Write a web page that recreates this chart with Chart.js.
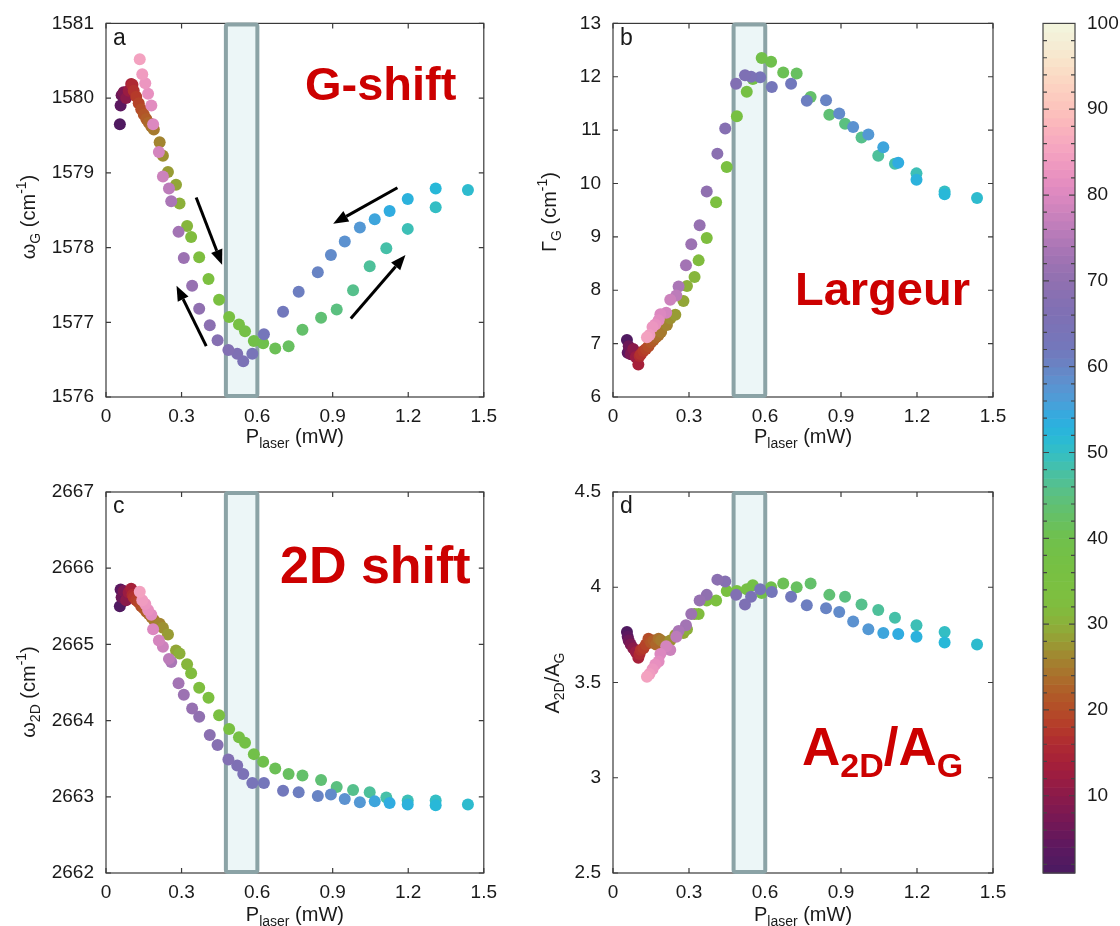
<!DOCTYPE html>
<html>
<head>
<meta charset="utf-8">
<script src="https://cdn.jsdelivr.net/npm/chart.js@4.4.0/dist/chart.umd.min.js"></script>
<style>
  body { margin: 0; background: #fff; }
  #wrap { position: relative; width: 1120px; height: 926px; overflow: hidden; }
  canvas { position: absolute; }
</style>
</head>
<body>
<div id="wrap">
  <canvas id="pa" width="505" height="460" style="left:0;top:0"></canvas>
  <canvas id="pb" width="505" height="460" style="left:510px;top:0"></canvas>
  <canvas id="pc" width="505" height="466" style="left:0;top:460px"></canvas>
  <canvas id="pd" width="505" height="466" style="left:510px;top:460px"></canvas>
  <canvas id="cb" width="90" height="926" style="left:1030px;top:0"></canvas>
</div>
<script>
// laser power of each measurement (mW), in the order they were taken
const power = [0.055,0.058,0.062,0.07,0.08,0.09,0.10,0.105,0.11,0.12,0.13,0.14,0.15,0.16,0.17,0.18,0.19,
  0.213,0.226,0.246,0.278,0.292,0.322,0.338,0.370,0.407,0.449,0.489,0.528,0.552,0.587,0.624,0.672,0.725,0.780,0.854,0.916,0.981,1.047,1.113,1.198,1.309,1.437,
  1.309,1.198,1.126,1.067,1.008,0.948,0.893,0.841,0.765,0.703,0.627,0.581,0.545,0.521,0.486,0.443,0.412,0.370,0.342,0.309,0.288,0.259,0.250,0.226,0.210,0.187,0.180,0.167,0.156,0.144,0.134];
// colour-bar value of each measurement
const stamp = [2,4,6,8,10,12,14,16,17,18,19,20,21,22,23,24,25,
  26,27,28,29,30,31,32,33,34,35,36,37,38,39,40,41,42,43,44,45,46,47,48,49,50,51,
  52,53,54,55,57,58,59,60,61,62,63,64,65,66,67,68,69,70,71,72,73,74,76,78,79,80,81,82,83,84,85];

const omegaG = [1579.65,1579.90,1580.04,1580.08,1580.00,1580.10,1580.19,1580.18,1580.10,1580.02,1579.93,1579.85,1579.78,1579.72,1579.67,1579.62,1579.58,
  1579.41,1579.23,1579.01,1578.84,1578.59,1578.29,1578.14,1577.87,1577.58,1577.30,1577.07,1576.97,1576.88,1576.75,1576.72,1576.65,1576.68,1576.90,1577.06,1577.17,1577.43,1577.75,1577.99,1578.25,1578.54,1578.77,
  1578.79,1578.65,1578.49,1578.38,1578.27,1578.08,1577.90,1577.67,1577.41,1577.14,1576.84,1576.58,1576.48,1576.58,1576.63,1576.76,1576.96,1577.18,1577.49,1577.86,1578.21,1578.62,1578.79,1578.95,1579.28,1579.65,1579.90,1580.06,1580.20,1580.32,1580.52];
const gammaG = [7.07,6.83,6.95,6.80,6.90,6.75,6.61,6.77,6.80,6.86,6.90,6.95,7.02,7.07,7.12,7.16,7.22,
  7.35,7.47,7.54,7.80,8.08,8.25,8.56,8.98,9.65,10.31,11.26,11.72,11.96,12.35,12.28,12.08,12.06,11.62,11.29,11.12,10.86,10.52,10.37,10.19,9.85,9.73,
  9.80,10.07,10.39,10.68,10.92,11.06,11.31,11.56,11.55,11.87,11.81,11.99,12.00,12.03,11.87,11.03,10.56,9.85,9.22,8.86,8.47,8.07,7.90,7.82,7.58,7.55,7.44,7.36,7.31,7.16,7.12];
const omega2D = [2665.50,2665.72,2665.62,2665.70,2665.58,2665.68,2665.73,2665.65,2665.62,2665.58,2665.55,2665.50,2665.47,2665.43,2665.40,2665.36,2665.32,
  2665.27,2665.22,2665.13,2664.92,2664.88,2664.74,2664.62,2664.43,2664.30,2664.07,2663.89,2663.78,2663.71,2663.56,2663.46,2663.37,2663.30,2663.28,2663.22,2663.13,2663.09,2663.06,2662.99,2662.95,2662.95,2662.90,
  2662.89,2662.90,2662.92,2662.94,2662.93,2662.97,2663.03,2663.01,2663.06,2663.08,2663.18,2663.18,2663.30,2663.41,2663.49,2663.68,2663.81,2664.05,2664.16,2664.34,2664.49,2664.77,2664.81,2664.97,2665.05,2665.20,2665.39,2665.45,2665.53,2665.58,2665.69];
const ratio2D = [3.765,3.74,3.72,3.70,3.68,3.66,3.63,3.65,3.67,3.68,3.70,3.73,3.71,3.72,3.70,3.73,3.72,
  3.70,3.72,3.75,3.76,3.78,3.86,3.86,3.93,3.93,3.98,3.98,3.99,4.01,3.97,4.00,4.02,4.00,4.02,3.96,3.95,3.91,3.88,3.84,3.80,3.765,3.70,
  3.71,3.74,3.755,3.76,3.78,3.82,3.87,3.89,3.905,3.95,3.975,3.99,3.95,3.91,3.96,4.03,4.04,3.96,3.93,3.86,3.80,3.77,3.74,3.67,3.69,3.65,3.61,3.595,3.57,3.545,3.53];

const xTicks = [0, 0.3, 0.6, 0.9, 1.2, 1.5];
const yTicksA = [1576, 1577, 1578, 1579, 1580, 1581];
const yTicksB = [6, 7, 8, 9, 10, 11, 12, 13];
const yTicksC = [2662, 2663, 2664, 2665, 2666, 2667];
const yTicksD = [2.5, 3, 3.5, 4, 4.5];
const cbTicks = [10, 20, 30, 40, 50, 60, 70, 80, 90, 100];

const cmapPos = [1,2,4,6,8,10,12,14,16,18,20,22,24,26,28,30,32,34,36,38,40,42,44,46,48,50,52,54,56,58,60,62,64,66,68,70,72,74,76,78,80,82,84,86,88,90,92,94,96,98,100];
const cmapHex = ['#4a1a62','#501a60','#5c1860','#6c1858','#7c1852','#8a1a4a','#9a1c42','#a62039','#ae2a32','#b53a2a',
  '#b44c28','#b05c28','#aa702c','#a28430','#989c34','#8cb03a','#80bc3e','#7cc040','#78c042','#74c046',
  '#70c04c','#68c060','#60c074','#56c08c','#46c0a8','#34bec4','#28b8d8','#30ace0','#4c9ed8','#5c92d0',
  '#6884c4','#7278bc','#7874b8','#7e70b4','#8670b2','#9070b0','#9c72b2','#aa76b6','#bc7cba','#cc82bc',
  '#dc88c0','#e890c0','#f09cc0','#f6a8c0','#fab4bc','#fcc2bc','#fccec0','#fadac4','#f8e6cc','#f4eed6','#f2f6de'];

const FONT = '"Liberation Sans", Arial, Helvetica, sans-serif';
const RED = '#cc0000';
const INK = '#1a1a1a';
Chart.defaults.font.family = FONT;
Chart.defaults.color = INK;

function hexRgb(h) {
  return [parseInt(h.slice(1, 3), 16), parseInt(h.slice(3, 5), 16), parseInt(h.slice(5, 7), 16)];
}
function cmap(v) {
  for (let i = 1; i < cmapPos.length; i++) {
    if (v <= cmapPos[i]) {
      const f = (v - cmapPos[i - 1]) / (cmapPos[i] - cmapPos[i - 1]);
      const a = hexRgb(cmapHex[i - 1]), b = hexRgb(cmapHex[i]);
      const c = a.map((q, k) => Math.round(q + (b[k] - q) * f));
      return 'rgb(' + c.join(',') + ')';
    }
  }
  return cmapHex[cmapHex.length - 1];
}

// text made of pieces (subscripts, superscripts), drawn on one baseline
function drawRich(ctx, segs, x, y, align, color, bold) {
  ctx.save();
  ctx.fillStyle = color;
  ctx.textBaseline = 'alphabetic';
  ctx.textAlign = 'left';
  let w = 0;
  segs.forEach(s => {
    ctx.font = (bold ? 'bold ' : '') + s.size + 'px ' + FONT;
    s.w = ctx.measureText(s.t).width;
    w += s.w;
  });
  let cx = align === 'center' ? x - w / 2 : x;
  segs.forEach(s => {
    ctx.font = (bold ? 'bold ' : '') + s.size + 'px ' + FONT;
    ctx.fillText(s.t, cx, y + (s.dy || 0));
    cx += s.w;
  });
  ctx.restore();
}

const panelPlugin = {
  id: 'panel',
  beforeDatasetsDraw(chart, args, o) {
    const { ctx, chartArea: a, scales: { x, y } } = chart;
    ctx.save();
    ctx.strokeStyle = '#3a3a3a';
    ctx.lineWidth = 1.2;
    ctx.strokeRect(a.left, a.top, a.right - a.left, a.bottom - a.top);
    ctx.beginPath();
    x.ticks.forEach(t => {
      const p = x.getPixelForValue(t.value);
      ctx.moveTo(p, a.bottom); ctx.lineTo(p, a.bottom - 5);
      ctx.moveTo(p, a.top); ctx.lineTo(p, a.top + 5);
    });
    y.ticks.forEach(t => {
      const p = y.getPixelForValue(t.value);
      ctx.moveTo(a.left, p); ctx.lineTo(a.left + 5, p);
      ctx.moveTo(a.right, p); ctx.lineTo(a.right - 5, p);
    });
    ctx.stroke();
    // highlighted power window
    const b0 = x.getPixelForValue(o.band[0]), b1 = x.getPixelForValue(o.band[1]);
    ctx.fillStyle = '#ecf6f7';
    ctx.strokeStyle = '#8ba3a6';
    ctx.lineWidth = 4;
    ctx.beginPath();
    ctx.roundRect(b0, a.top + 1, b1 - b0, a.bottom - a.top - 2, 2);
    ctx.fill();
    ctx.stroke();
    ctx.restore();
  },
  afterDatasetsDraw(chart, args, o) {
    const { ctx, chartArea: a, scales: { x, y } } = chart;
    ctx.save();
    (o.arrows || []).forEach(([x0, y0, x1, y1]) => {
      const p0 = [x.getPixelForValue(x0), y.getPixelForValue(y0)];
      const p1 = [x.getPixelForValue(x1), y.getPixelForValue(y1)];
      const ang = Math.atan2(p1[1] - p0[1], p1[0] - p0[0]);
      const hl = 15, hw = 6;
      const bx = p1[0] - hl * Math.cos(ang), by = p1[1] - hl * Math.sin(ang);
      ctx.strokeStyle = '#000';
      ctx.fillStyle = '#000';
      ctx.lineWidth = 3;
      ctx.beginPath();
      ctx.moveTo(p0[0], p0[1]);
      ctx.lineTo(bx, by);
      ctx.stroke();
      ctx.beginPath();
      ctx.moveTo(p1[0], p1[1]);
      ctx.lineTo(bx + hw * Math.sin(ang), by - hw * Math.cos(ang));
      ctx.lineTo(bx - hw * Math.sin(ang), by + hw * Math.cos(ang));
      ctx.closePath();
      ctx.fill();
    });
    ctx.restore();
    drawRich(ctx, o.label, o.labelAt[0], o.labelAt[1], 'left', RED, true);
    drawRich(ctx, [{ t: o.letter, size: 23 }], a.left + 7, a.top + o.letterDy, 'left', INK);
    drawRich(ctx, [{ t: 'P', size: 20 }, { t: 'laser', size: 14, dy: 5 }, { t: ' (mW)', size: 20 }],
      (a.left + a.right) / 2, o.xTitleY, 'center', INK);
    ctx.save();
    ctx.translate(o.yTitleAt[0], o.yTitleAt[1]);
    ctx.rotate(-Math.PI / 2);
    drawRich(ctx, o.yTitle, 0, 0, 'center', INK);
    ctx.restore();
  }
};

const cbPlugin = {
  id: 'cbar',
  beforeDatasetsDraw(chart) {
    const { ctx, chartArea: a, scales: { y } } = chart;
    ctx.save();
    for (let v = 1; v < 100; v++) {
      const t = y.getPixelForValue(v + 1), b = y.getPixelForValue(v);
      ctx.fillStyle = cmap(v + 0.5);
      ctx.fillRect(a.left, t, a.right - a.left, b - t + 0.6);
    }
    ctx.strokeStyle = '#444';
    ctx.lineWidth = 1.2;
    ctx.strokeRect(a.left, a.top, a.right - a.left, a.bottom - a.top);
    ctx.beginPath();
    for (let v = 2; v < 100; v += 2) {
      const p = y.getPixelForValue(v);
      const len = v % 10 === 0 ? 6 : 4;
      ctx.moveTo(a.left, p); ctx.lineTo(a.left + len, p);
      ctx.moveTo(a.right, p); ctx.lineTo(a.right - len, p);
    }
    ctx.stroke();
    ctx.restore();
  }
};

function fmt(v) { return String(+(+v).toFixed(2)); }

function makePanel(id, ys, yTicks, pad, yWidth, xHeight, deco) {
  return new Chart(document.getElementById(id), {
    type: 'scatter',
    data: {
      datasets: [{
        data: power.map((p, i) => ({ x: p, y: ys[i] })),
        pointBackgroundColor: stamp.map(cmap),
        pointBorderWidth: 0,
        pointRadius: 6,
        pointHoverRadius: 6
      }]
    },
    options: {
      responsive: false,
      animation: false,
      events: [],
      layout: { padding: pad },
      plugins: { legend: { display: false }, tooltip: { enabled: false }, panel: deco },
      scales: {
        x: {
          type: 'linear', min: 0, max: 1.5,
          afterBuildTicks: s => { s.ticks = xTicks.map(v => ({ value: v })); },
          afterFit: s => { s.height = xHeight; },
          grid: { display: false, drawTicks: false },
          border: { display: false },
          ticks: { padding: 8, callback: fmt, color: INK, font: { size: 19 }, maxRotation: 0, autoSkip: false }
        },
        y: {
          type: 'linear', min: yTicks[0], max: yTicks[yTicks.length - 1],
          afterBuildTicks: s => { s.ticks = yTicks.map(v => ({ value: v })); },
          afterFit: s => { s.width = yWidth; },
          grid: { display: false, drawTicks: false },
          border: { display: false },
          ticks: { padding: 12, callback: fmt, color: INK, font: { size: 19 }, autoSkip: false }
        }
      }
    },
    plugins: [panelPlugin]
  });
}

const band = [0.476, 0.601];

makePanel('pa', omegaG, yTicksA, { left: 0, right: 18, top: 15, bottom: 0 }, 106, 63, {
  band: band, letter: 'a', letterDy: 22, xTitleY: 443, yTitleAt: [35, 217],
  yTitle: [{ t: 'ω', size: 20 }, { t: 'G', size: 14, dy: 5 }, { t: ' (cm', size: 20 }, { t: '-1', size: 14, dy: -9 }, { t: ')', size: 20 }],
  label: [{ t: 'G-shift', size: 47 }], labelAt: [305, 100],
  arrows: [[0.358, 1578.67, 0.461, 1577.77], [0.398, 1576.68, 0.280, 1577.49],
           [1.157, 1578.80, 0.902, 1578.32], [0.972, 1577.05, 1.189, 1577.90]]
});
makePanel('pb', gammaG, yTicksB, { left: 0, right: 22, top: 15, bottom: 0 }, 103, 63, {
  band: band, letter: 'b', letterDy: 22, xTitleY: 443, yTitleAt: [46, 212],
  yTitle: [{ t: 'Γ', size: 20 }, { t: 'G', size: 14, dy: 5 }, { t: ' (cm', size: 20 }, { t: '-1', size: 14, dy: -9 }, { t: ')', size: 20 }],
  label: [{ t: 'Largeur', size: 47 }], labelAt: [285, 305]
});
makePanel('pc', omega2D, yTicksC, { left: 0, right: 18, top: 32, bottom: 0 }, 106, 53, {
  band: band, letter: 'c', letterDy: 21, xTitleY: 461, yTitleAt: [35, 232],
  yTitle: [{ t: 'ω', size: 20 }, { t: '2D', size: 14, dy: 5 }, { t: ' (cm', size: 20 }, { t: '-1', size: 14, dy: -9 }, { t: ')', size: 20 }],
  label: [{ t: '2D shift', size: 52 }], labelAt: [280, 123]
});
makePanel('pd', ratio2D, yTicksD, { left: 0, right: 22, top: 32, bottom: 0 }, 103, 53, {
  band: band, letter: 'd', letterDy: 21, xTitleY: 461, yTitleAt: [49, 223],
  yTitle: [{ t: 'A', size: 20 }, { t: '2D', size: 14, dy: 5 }, { t: '/A', size: 20 }, { t: 'G', size: 14, dy: 5 }],
  label: [{ t: 'A', size: 53 }, { t: '2D', size: 34, dy: 12 }, { t: '/A', size: 53 }, { t: 'G', size: 34, dy: 12 }], labelAt: [292, 305]
});

new Chart(document.getElementById('cb'), {
  type: 'scatter',
  data: { datasets: [] },
  options: {
    responsive: false,
    animation: false,
    events: [],
    layout: { padding: { left: 13, right: 0, top: 15, bottom: 53 } },
    plugins: { legend: { display: false }, tooltip: { enabled: false } },
    scales: {
      x: { display: false, min: 0, max: 1 },
      y: {
        position: 'right', min: 1, max: 100,
        afterBuildTicks: s => { s.ticks = cbTicks.map(v => ({ value: v })); },
        afterFit: s => { s.width = 45; },
        grid: { display: false, drawTicks: false },
        border: { display: false },
        ticks: { padding: 12, color: INK, font: { size: 19 }, autoSkip: false }
      }
    }
  },
  plugins: [cbPlugin]
});
</script>
</body>
</html>
